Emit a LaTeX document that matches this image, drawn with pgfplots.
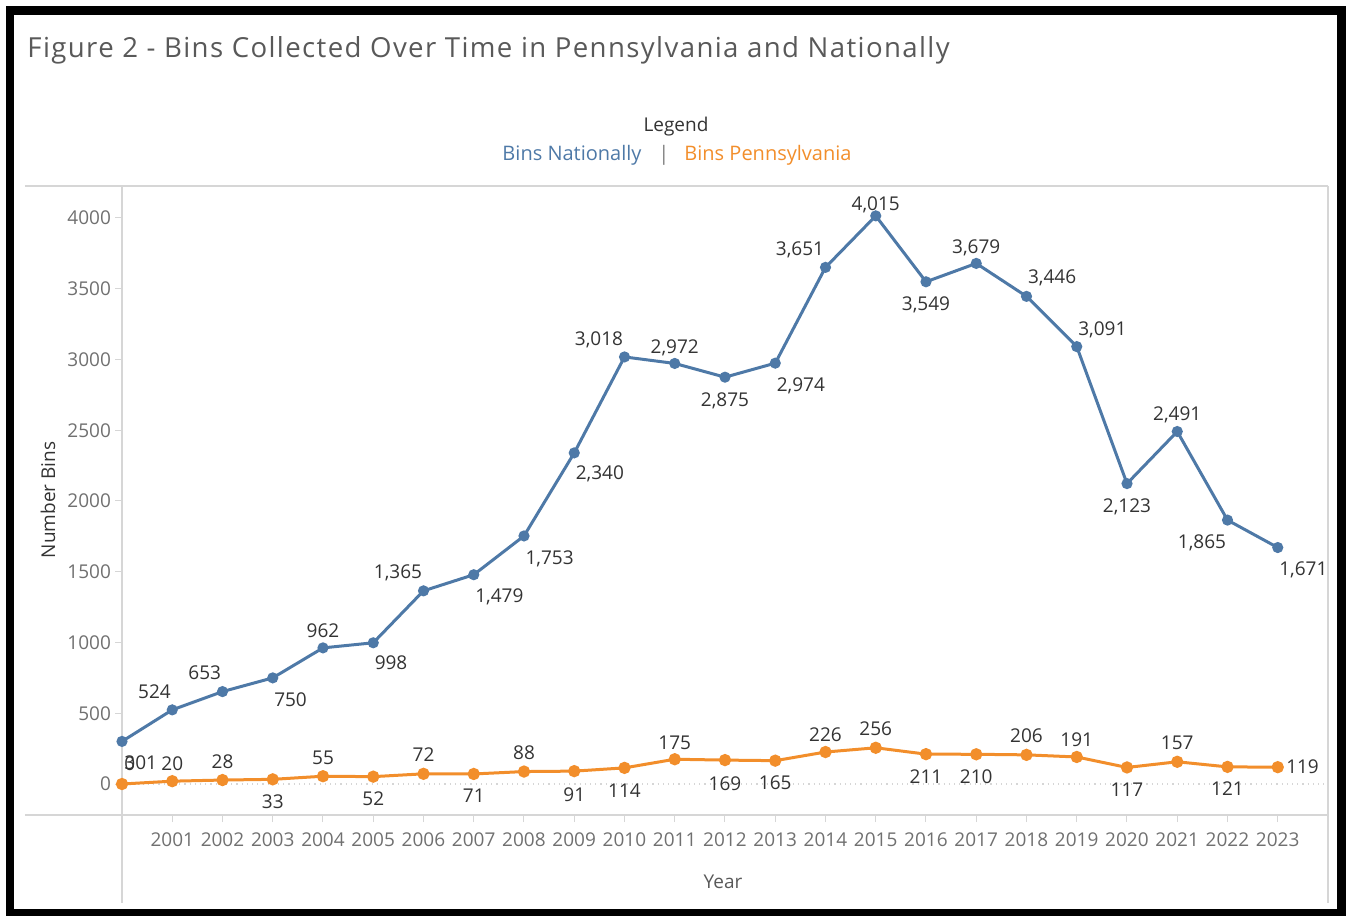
\documentclass[border=0pt]{standalone}
\usepackage{pgfplots}
\pgfplotsset{compat=1.18}
\usepackage{pgfplotstable}
\usepackage{fontspec}
\setmainfont{Open Sans}
\newfontfamily\titlefont[LetterSpace=5]{Open Sans}
\definecolor{natblue}{HTML}{4E79A7}
\definecolor{paorange}{HTML}{F28E2B}
\definecolor{lblgray}{HTML}{333333}
\definecolor{tickgray}{HTML}{707070}
\definecolor{rulegray}{HTML}{D6D6D6}
\definecolor{titlegray}{HTML}{595959}

% ang: label anchor as border angle (180 = west, 0 = east, 90 = north)
\pgfplotstableread{
year val ang dx dy
2000 301 180 0.5 -11
2001 524 0 0 9
2002 653 0 0 9.5
2003 750 180 0 -11
2004 962 90 0 12.25
2005 998 180 0 -10
2006 1365 0 0 9.5
2007 1479 180 0 -10.5
2008 1753 180 0 -11
2009 2340 180 0 -10
2010 3018 0 0 9
2011 2972 90 0 12.25
2012 2875 90 0 -7.25
2013 2974 180 0 -11
2014 3651 0 0 9
2015 4015 90 0 9.75
2016 3549 90 0 -7.25
2017 3679 90 0 12.25
2018 3446 180 0 9.5
2019 3091 180 0 9
2020 2123 90 0 -7.25
2021 2491 90 0 12.75
2022 1865 0 0 -11
2023 1671 180 0 -10.5
}\national

\pgfplotstableread{
year val ang dx dy
2000 0 180 0.5 10
2001 20 90 0 12.75
2002 28 90 0 13.25
2003 33 90 0 -7.25
2004 55 90 0 13.25
2005 52 90 0 -7.25
2006 72 90 0 13.25
2007 71 90 0 -7.25
2008 88 90 0 13.25
2009 91 90 0 -7.75
2010 114 90 0 -7.75
2011 175 90 0 12.25
2012 169 90 0 -7.75
2013 165 90 0 -7.25
2014 226 90 0 12.75
2015 256 90 0 13.25
2016 211 90 0 -7.25
2017 210 90 0 -7.25
2018 206 90 0 13.25
2019 191 90 0 12.25
2020 117 90 0 -7.25
2021 157 90 0 13.25
2022 121 90 0 -7.25
2023 119 180 3.5 0
}\pennsylvania

\pgfplotsset{
  lbl/.style={
    nodes near coords={\pgfmathprintnumber[1000 sep={,}]{\pgfplotspointmeta}},
    visualization depends on={\thisrow{ang} \as \ang},
    visualization depends on={\thisrow{dx} \as \dx},
    visualization depends on={\thisrow{dy} \as \dy},
    every node near coord/.append style={anchor=\ang, xshift=\dx pt, yshift=\dy pt,
       inner sep=0pt, text height=6.5pt, text depth=0pt,
       font=\fontsize{9.5}{11}\selectfont, text=lblgray},
  }
}

\begin{document}
\begin{tikzpicture}
% pixel-based frame and rules
\begin{scope}[x=0.5pt, y=-0.5pt, shift={(-61pt,407.5pt)}]
  \draw[rulegray, line width=0.8pt] (25,186) -- (1328,186);
  \draw[rulegray, line width=0.8pt] (25,815) -- (1328,815);
  \draw[rulegray, line width=0.8pt] (122,186) -- (122,903);
  \draw[rulegray, line width=0.8pt] (1328,186) -- (1328,903);
  \draw[black, line width=4.25pt] (10,10.5) rectangle (1341.5,913);
  \node[anchor=base west, text=titlegray, font=\titlefont\fontsize{13.8}{16}\selectfont, inner sep=0pt] at (27,58) {Figure 2 - Bins Collected Over Time in Pennsylvania and Nationally};
  \node[text=lblgray, font=\fontsize{9.5}{11}\selectfont] at (676,127) {Legend};
  \node[text=natblue, font=\fontsize{10}{12}\selectfont] at (572,155) {Bins Nationally};
  \node[text=gray, font=\fontsize{10}{12}\selectfont] at (664,155) {|};
  \node[text=paorange, font=\fontsize{10}{12}\selectfont] at (768,155) {Bins Pennsylvania};
  \node[rotate=90, text=lblgray, font=\fontsize{9.5}{11}\selectfont] at (48,500) {Number Bins};
  \node[text=titlegray, font=\fontsize{9.5}{11}\selectfont] at (723,882) {Year};
\end{scope}

\begin{axis}[
  scale only axis, width=603pt, height=314.5pt,
  xmin=2000, xmax=2024, ymin=-219, ymax=4226,
  axis x line*=bottom, axis y line*=left,
  axis line style={draw=none},
  xtick={2001,...,2023}, ytick={0,500,...,4000},
  tick align=outside, major tick length=3.5pt,
  tick style={rulegray, line width=0.5pt},
  /pgf/number format/1000 sep={},
  /pgf/number format/assume math mode=true,
  tick label style={font=\fontsize{9.5}{11}\selectfont, text=tickgray},
  xticklabel style={yshift=-2pt},
  yticklabel style={xshift=1.5pt},
  clip=false,
]
\draw[rulegray, dotted, line width=0.6pt] (axis cs:2000,0) -- (axis cs:2024,0);
\addplot[lbl, color=natblue, line width=1.5pt, mark=*, mark size=2pt, mark options={fill=natblue, draw=natblue}]
  table[x=year, y=val] {\national};
\addplot[lbl, color=paorange, line width=1.5pt, mark=*, mark size=2.3pt, mark options={fill=paorange, draw=paorange}]
  table[x=year, y=val] {\pennsylvania};
\end{axis}

\begin{scope}[x=0.5pt, y=-0.5pt, shift={(-61pt,407.5pt)}]
  \pgfresetboundingbox
  \useasboundingbox (0,0) rectangle (1350,916);
\end{scope}
\end{tikzpicture}
\end{document}
